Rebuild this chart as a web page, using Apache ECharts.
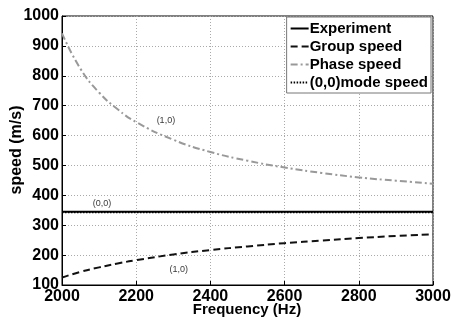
<!DOCTYPE html>
<html>
<head>
<meta charset="utf-8">
<script src="https://cdn.jsdelivr.net/npm/echarts@6/dist/echarts.min.js"></script>
<style>
  html, body { margin: 0; padding: 0; background: #fff; }
  #chart { width: 451px; height: 320px; }
</style>
</head>
<body>
<div id="chart"></div>
<script>
// Frequencies (Hz) and speeds (m/s) of the duct modes
const freq = [2000, 2050, 2100, 2150, 2200, 2300, 2400, 2500, 2600, 2700, 2800, 2900, 3000];
const experiment = [345, 345, 345, 345, 345, 345, 345, 345, 345, 345, 345, 345, 345];
const groupSpeed = [125, 144, 159, 172, 183, 202, 217, 229, 240, 249, 257, 264, 270];
const phaseSpeed = [942, 823, 744, 688, 645, 586, 545, 516, 493, 475, 460, 449, 439];
const mode00Speed = [343, 343, 343, 343, 343, 343, 343, 343, 343, 343, 343, 343, 343];
const xTicks = { min: 2000, max: 3000, interval: 200 };
const yTicks = { min: 100, max: 1000, interval: 100 };
const seriesNames = ['Experiment', 'Group speed', 'Phase speed', '(0,0)mode speed'];
const xTitle = 'Frequency (Hz)';
const yTitle = 'speed (m/s)';

// Curve annotations: [frequency, speed, text]
const notes = [
  [2280, 650, '(1,0)'],
  [2108, 373, '(0,0)'],
  [2315, 153, '(1,0)']
];

const pair = (ys) => freq.map((f, i) => [f, ys[i]]);
const font = 'Liberation Sans, Arial, sans-serif';

const styles = [
  { color: '#000', width: 2, type: 'solid' },
  { color: '#111', width: 2, type: [7, 4] },
  { color: '#999', width: 2, type: [7, 3, 2, 3] },
  { color: '#000', width: 2, type: [1.5, 1.5] }
];
const values = [experiment, groupSpeed, phaseSpeed, mode00Speed];

const titleStyle = { fontFamily: font, fontWeight: 'bold', fontSize: 16, fill: '#000',
                     align: 'center', verticalAlign: 'middle' };

const chart = echarts.init(document.getElementById('chart'), null, { renderer: 'canvas' });
chart.setOption({
  animation: false,
  backgroundColor: '#fff',
  grid: { left: 62, right: 18, top: 16, bottom: 35, outerBoundsMode: 'none', containLabel: false,
          show: true, borderColor: '#000', borderWidth: 1 },
  // axis titles
  graphic: [
    { type: 'text', x: 247, y: 310, style: Object.assign({ text: xTitle }, titleStyle, { fontSize: 15 }) },
    { type: 'text', x: 17, y: 150, rotation: Math.PI / 2, style: Object.assign({ text: yTitle }, titleStyle) }
  ],
  xAxis: {
    type: 'value', min: xTicks.min, max: xTicks.max, interval: xTicks.interval,
    axisLine: { lineStyle: { color: '#000' } },
    axisTick: { inside: true, length: 4, lineStyle: { color: '#000' } },
    axisLabel: { fontFamily: font, fontWeight: 'bold', fontSize: 16, color: '#000', margin: 4,
                 formatter: (v) => String(v) },
    splitLine: { show: true, lineStyle: { color: '#aaa', type: [1, 2], width: 1 } }
  },
  yAxis: {
    type: 'value', min: yTicks.min, max: yTicks.max, interval: yTicks.interval,
    axisLine: { lineStyle: { color: '#000' } },
    axisTick: { inside: true, length: 4, lineStyle: { color: '#000' } },
    axisLabel: { fontFamily: font, fontWeight: 'bold', fontSize: 16, color: '#000', margin: 3,
                 formatter: (v) => String(v) },
    splitLine: { show: true, lineStyle: { color: '#aaa', type: [1, 2], width: 1 } }
  },
  legend: {
    orient: 'vertical', right: 20, top: 17,
    backgroundColor: '#fff', borderColor: '#777', borderWidth: 1,
    padding: [4, 3, 3, 3], itemGap: 3, itemWidth: 18, itemHeight: 15,
    itemStyle: { opacity: 0, borderWidth: 0 },
    textStyle: { fontFamily: font, fontWeight: 'bold', fontSize: 15, color: '#000', padding: [0, 0, 0, -4] },
    data: seriesNames.map((n, i) => ({ name: n, lineStyle: styles[i], itemStyle: { opacity: 0 } }))
  },
  series: seriesNames.map((n, i) => ({
    name: n, type: 'line', data: pair(values[i]), smooth: i === 1 || i === 2,
    showSymbol: false, symbol: 'none',
    lineStyle: styles[i], itemStyle: { color: styles[i].color }
  })).concat([{
    type: 'scatter', symbolSize: 0, silent: true,
    data: notes.map(n => ({ value: [n[0], n[1]], label: { formatter: n[2] } })),
    label: { show: true, position: 'inside', fontFamily: font, fontSize: 9, color: '#000' }
  }])
});
</script>
</body>
</html>
